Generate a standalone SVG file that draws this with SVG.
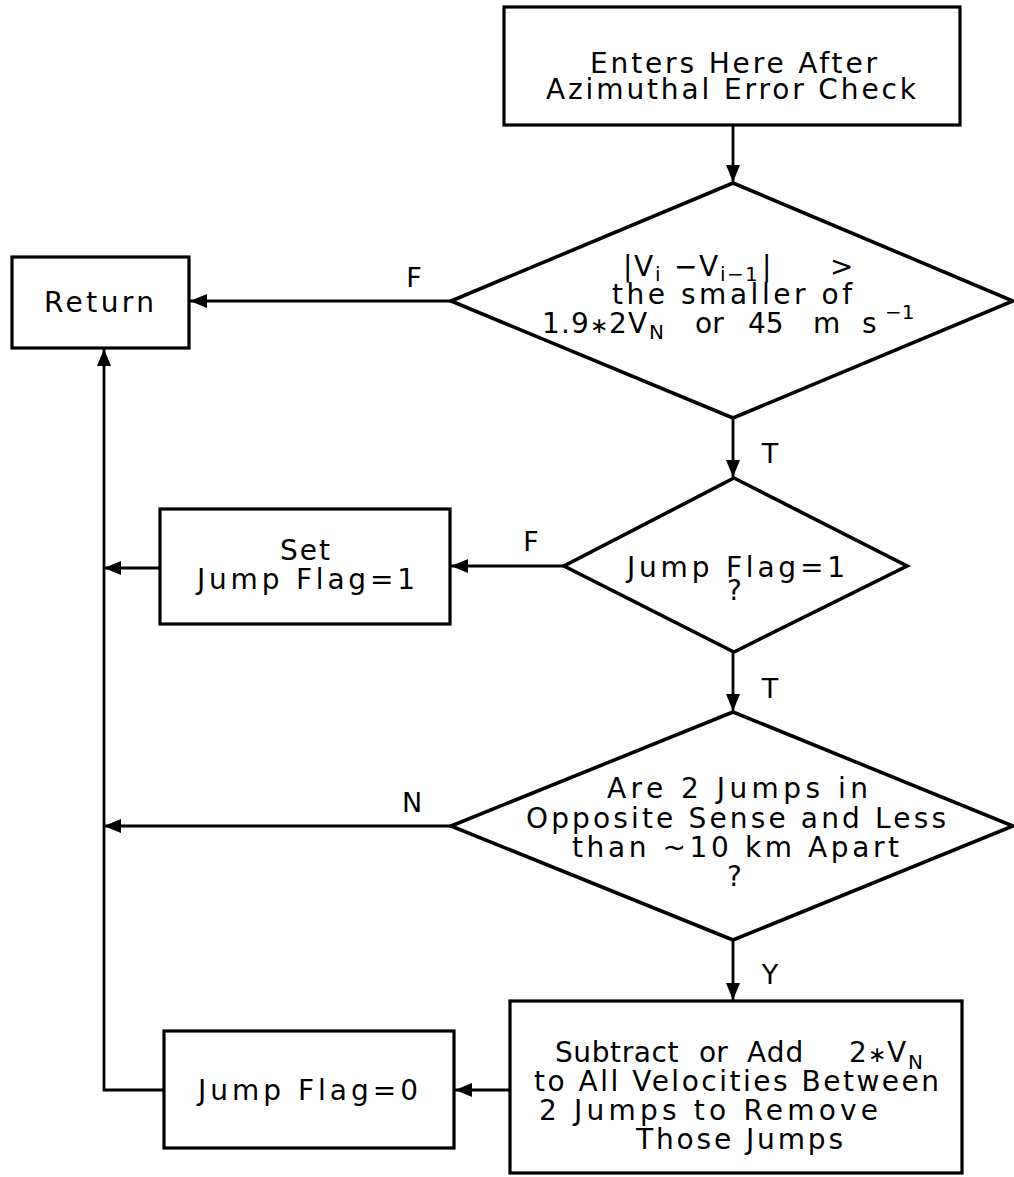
<svg xmlns="http://www.w3.org/2000/svg" width="1014" height="1177" viewBox="0 0 1014 1177">
<style>
  .shape { fill: #ffffff; stroke: #000000; stroke-width: 3.2; stroke-linejoin: miter; }
  .dia { stroke-width: 3.6; }
  .conn { fill: none; stroke: #000000; stroke-width: 2.8; }
  .t { font-family: "DejaVu Sans", "Liberation Sans", sans-serif; font-size: 28px; fill: #000000; }
  .sub { font-size: 20px; }
  .ast { font-size: 22px; }
  .lbl { font-family: "DejaVu Sans", "Liberation Sans", sans-serif; font-size: 27px; fill: #000000; text-anchor: middle; }
</style>
<defs>
  <marker id="arr" markerUnits="userSpaceOnUse" markerWidth="18" markerHeight="14" refX="17" refY="7" orient="auto">
    <path d="M0,0 L17,7 L0,14 Z" fill="#000000"/>
  </marker>
</defs>
<rect width="1014" height="1177" fill="#ffffff"/>

<g id="connectors">
  <line class="conn" x1="733" y1="125" x2="733" y2="182" marker-end="url(#arr)"/>
  <line class="conn" x1="451" y1="301" x2="190" y2="301" marker-end="url(#arr)"/>
  <line class="conn" x1="733" y1="418" x2="733" y2="477" marker-end="url(#arr)"/>
  <line class="conn" x1="564" y1="566" x2="451" y2="566" marker-end="url(#arr)"/>
  <line class="conn" x1="160" y1="568" x2="104" y2="568" marker-end="url(#arr)"/>
  <line class="conn" x1="733" y1="652" x2="733" y2="711" marker-end="url(#arr)"/>
  <line class="conn" x1="451" y1="826" x2="104" y2="826" marker-end="url(#arr)"/>
  <line class="conn" x1="733" y1="940" x2="733" y2="1000" marker-end="url(#arr)"/>
  <line class="conn" x1="510" y1="1090" x2="455" y2="1090" marker-end="url(#arr)"/>
  <polyline class="conn" points="164,1090 104,1090 104,349" marker-end="url(#arr)"/>
  <text class="lbl" x="414" y="287">F</text>
  <text class="lbl" x="770" y="463">T</text>
  <text class="lbl" x="531" y="551">F</text>
  <text class="lbl" x="770" y="698">T</text>
  <text class="lbl" x="412" y="812">N</text>
  <text class="lbl" x="770" y="984">Y</text>
</g>

<g id="start">
  <rect class="shape" x="504" y="7" width="456" height="118"/>
  <text class="t" x="590" y="73" textLength="287" lengthAdjust="spacing">Enters Here After</text>
  <text class="t" x="546" y="99" textLength="370" lengthAdjust="spacing">Azimuthal Error Check</text>
</g>

<g id="decision-jump-size">
  <polygon class="shape dia" points="733,183 1013,301 733,418 451,301"/>
  <text class="t" y="276"><tspan x="623">|</tspan><tspan x="634">V</tspan><tspan class="sub" x="655" dy="5">i</tspan><tspan x="674" dy="-5">−</tspan><tspan x="699">V</tspan><tspan class="sub" x="720" dy="5">i</tspan><tspan class="sub" x="727">−</tspan><tspan class="sub" x="745">1</tspan><tspan x="762" dy="-5">|</tspan><tspan x="830">&gt;</tspan></text>
  <text class="t" x="612" y="304" textLength="240" lengthAdjust="spacing">the smaller of</text>
  <text class="t" y="333"><tspan x="542">1</tspan><tspan x="561">.</tspan><tspan x="571">9</tspan><tspan class="ast" x="590">∗</tspan><tspan x="609">2</tspan><tspan x="628">V</tspan><tspan class="sub" x="649" dy="6">N</tspan><tspan x="695" dy="-6">or</tspan><tspan x="748">45</tspan><tspan x="813">m</tspan><tspan x="862">s</tspan><tspan class="sub" x="885" dy="-14">−1</tspan></text>
</g>

<g id="return">
  <rect class="shape" x="12" y="257" width="177" height="91"/>
  <text class="t" x="44" y="312" textLength="110" lengthAdjust="spacing">Return</text>
</g>

<g id="decision-flag">
  <polygon class="shape dia" points="734,478 907,566 734,652 564,566"/>
  <text class="t" x="627" y="577" textLength="218" lengthAdjust="spacing">Jump Flag=1</text>
  <text class="t" x="727" y="600">?</text>
</g>

<g id="set-flag">
  <rect class="shape" x="160" y="509" width="290" height="115"/>
  <text class="t" x="280" y="560" textLength="50" lengthAdjust="spacing">Set</text>
  <text class="t" x="197" y="589" textLength="218" lengthAdjust="spacing">Jump Flag=1</text>
</g>

<g id="decision-opposite">
  <polygon class="shape dia" points="733,712 1013,826 733,940 451,826"/>
  <text class="t" x="607" y="798" textLength="261" lengthAdjust="spacing">Are 2 Jumps in</text>
  <text class="t" x="526" y="828" textLength="420" lengthAdjust="spacing">Opposite Sense and Less</text>
  <text class="t" x="572" y="857" textLength="327" lengthAdjust="spacing">than ~10 km Apart</text>
  <text class="t" x="727" y="886">?</text>
</g>

<g id="remove-jumps">
  <rect class="shape" x="510" y="1001" width="452" height="172"/>
  <text class="t" y="1062"><tspan x="555" letter-spacing="0.6">Subtract</tspan><tspan x="699">or</tspan><tspan x="747" letter-spacing="1">Add</tspan><tspan x="849">2</tspan><tspan class="ast" x="868">∗</tspan><tspan x="887">V</tspan><tspan class="sub" x="908" dy="7">N</tspan></text>
  <text class="t" x="534" y="1091" textLength="405" lengthAdjust="spacing">to All Velocities Between</text>
  <text class="t" x="539" y="1120" textLength="339" lengthAdjust="spacing">2 Jumps to Remove</text>
  <text class="t" x="636" y="1149" textLength="207" lengthAdjust="spacing">Those Jumps</text>
</g>

<g id="clear-flag">
  <rect class="shape" x="164" y="1031" width="290" height="117"/>
  <text class="t" x="198" y="1100" textLength="220" lengthAdjust="spacing">Jump Flag=0</text>
</g>
</svg>
